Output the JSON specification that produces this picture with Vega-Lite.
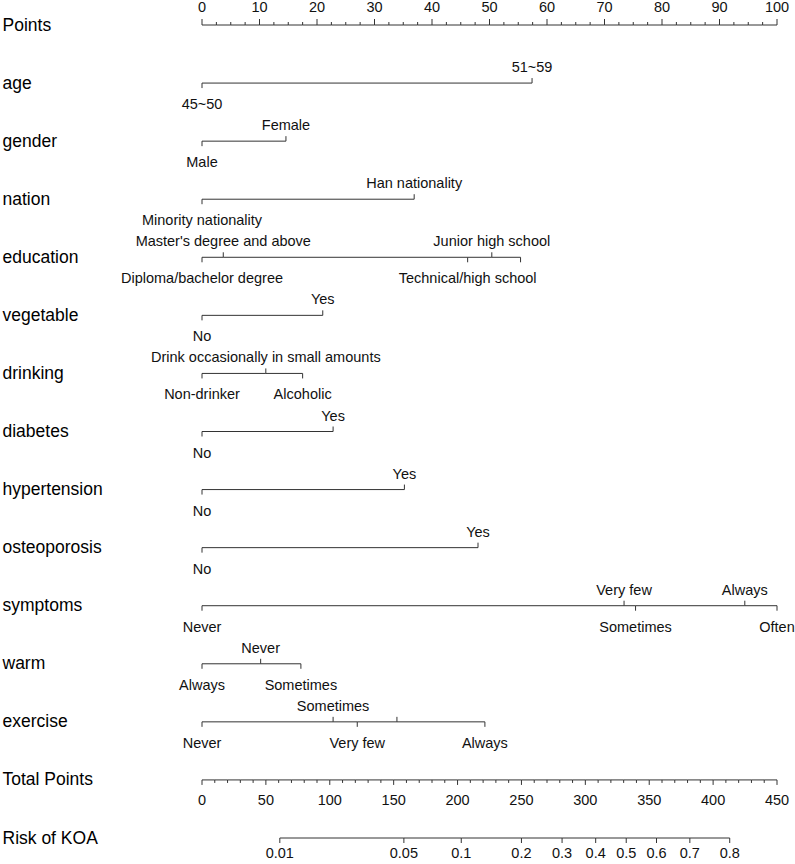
{
  "$schema": "https://vega.github.io/schema/vega-lite/v6.json",
  "width": 575,
  "height": 813,
  "autosize": {"type": "none"},
  "padding": {"left": 202, "top": 25, "right": 18, "bottom": 26},
  "background": "white",
  "config": {"font": "Liberation Sans", "view": {"stroke": null}},
  "datasets": {
    "lv": [
      {"v": "age", "p": 0, "lab": "45~50", "t": "d"},
      {"v": "age", "p": 57.4, "lab": "51~59", "t": "u"},
      {"v": "gender", "p": 0, "lab": "Male", "t": "d"},
      {"v": "gender", "p": 14.6, "lab": "Female", "t": "u"},
      {"v": "nation", "p": 0, "lab": "Minority nationality", "t": "d"},
      {"v": "nation", "p": 36.9, "lab": "Han nationality", "t": "u"},
      {"v": "education", "p": 0, "lab": "Diploma/bachelor degree", "t": "d"},
      {"v": "education", "p": 3.7, "lab": "Master's degree and above", "t": "u"},
      {"v": "education", "p": 46.2, "lab": "Technical/high school", "t": "d"},
      {"v": "education", "p": 50.4, "lab": "Junior high school", "t": "u"},
      {"v": "education", "p": 55.4, "lab": "", "t": "d"},
      {"v": "vegetable", "p": 0, "lab": "No", "t": "d"},
      {"v": "vegetable", "p": 21.0, "lab": "Yes", "t": "u"},
      {"v": "drinking", "p": 0, "lab": "Non-drinker", "t": "d"},
      {"v": "drinking", "p": 11.1, "lab": "Drink occasionally in small amounts", "t": "u"},
      {"v": "drinking", "p": 17.5, "lab": "Alcoholic", "t": "d"},
      {"v": "diabetes", "p": 0, "lab": "No", "t": "d"},
      {"v": "diabetes", "p": 22.8, "lab": "Yes", "t": "u"},
      {"v": "hypertension", "p": 0, "lab": "No", "t": "d"},
      {"v": "hypertension", "p": 35.2, "lab": "Yes", "t": "u"},
      {"v": "osteoporosis", "p": 0, "lab": "No", "t": "d"},
      {"v": "osteoporosis", "p": 48.0, "lab": "Yes", "t": "u"},
      {"v": "symptoms", "p": 0, "lab": "Never", "t": "d"},
      {"v": "symptoms", "p": 73.4, "lab": "Very few", "t": "u"},
      {"v": "symptoms", "p": 75.4, "lab": "Sometimes", "t": "d"},
      {"v": "symptoms", "p": 94.4, "lab": "Always", "t": "u"},
      {"v": "symptoms", "p": 100, "lab": "Often", "t": "d"},
      {"v": "warm", "p": 0, "lab": "Always", "t": "d"},
      {"v": "warm", "p": 10.2, "lab": "Never", "t": "u"},
      {"v": "warm", "p": 17.2, "lab": "Sometimes", "t": "d"},
      {"v": "exercise", "p": 0, "lab": "Never", "t": "d"},
      {"v": "exercise", "p": 22.8, "lab": "Sometimes", "t": "u"},
      {"v": "exercise", "p": 27.0, "lab": "Very few", "t": "d"},
      {"v": "exercise", "p": 33.9, "lab": "", "t": "u"},
      {"v": "exercise", "p": 49.2, "lab": "Always", "t": "d"}
    ],
    "pt": [
      {"v": "Points", "p": 0, "lab": "0", "t": "M"},
      {"v": "Points", "p": 2.5, "lab": "", "t": "m"},
      {"v": "Points", "p": 5, "lab": "", "t": "m"},
      {"v": "Points", "p": 7.5, "lab": "", "t": "m"},
      {"v": "Points", "p": 10, "lab": "10", "t": "M"},
      {"v": "Points", "p": 12.5, "lab": "", "t": "m"},
      {"v": "Points", "p": 15, "lab": "", "t": "m"},
      {"v": "Points", "p": 17.5, "lab": "", "t": "m"},
      {"v": "Points", "p": 20, "lab": "20", "t": "M"},
      {"v": "Points", "p": 22.5, "lab": "", "t": "m"},
      {"v": "Points", "p": 25, "lab": "", "t": "m"},
      {"v": "Points", "p": 27.5, "lab": "", "t": "m"},
      {"v": "Points", "p": 30, "lab": "30", "t": "M"},
      {"v": "Points", "p": 32.5, "lab": "", "t": "m"},
      {"v": "Points", "p": 35, "lab": "", "t": "m"},
      {"v": "Points", "p": 37.5, "lab": "", "t": "m"},
      {"v": "Points", "p": 40, "lab": "40", "t": "M"},
      {"v": "Points", "p": 42.5, "lab": "", "t": "m"},
      {"v": "Points", "p": 45, "lab": "", "t": "m"},
      {"v": "Points", "p": 47.5, "lab": "", "t": "m"},
      {"v": "Points", "p": 50, "lab": "50", "t": "M"},
      {"v": "Points", "p": 52.5, "lab": "", "t": "m"},
      {"v": "Points", "p": 55, "lab": "", "t": "m"},
      {"v": "Points", "p": 57.5, "lab": "", "t": "m"},
      {"v": "Points", "p": 60, "lab": "60", "t": "M"},
      {"v": "Points", "p": 62.5, "lab": "", "t": "m"},
      {"v": "Points", "p": 65, "lab": "", "t": "m"},
      {"v": "Points", "p": 67.5, "lab": "", "t": "m"},
      {"v": "Points", "p": 70, "lab": "70", "t": "M"},
      {"v": "Points", "p": 72.5, "lab": "", "t": "m"},
      {"v": "Points", "p": 75, "lab": "", "t": "m"},
      {"v": "Points", "p": 77.5, "lab": "", "t": "m"},
      {"v": "Points", "p": 80, "lab": "80", "t": "M"},
      {"v": "Points", "p": 82.5, "lab": "", "t": "m"},
      {"v": "Points", "p": 85, "lab": "", "t": "m"},
      {"v": "Points", "p": 87.5, "lab": "", "t": "m"},
      {"v": "Points", "p": 90, "lab": "90", "t": "M"},
      {"v": "Points", "p": 92.5, "lab": "", "t": "m"},
      {"v": "Points", "p": 95, "lab": "", "t": "m"},
      {"v": "Points", "p": 97.5, "lab": "", "t": "m"},
      {"v": "Points", "p": 100, "lab": "100", "t": "M"}
    ],
    "tp": [
      {"v": "Total Points", "tp": 0, "lab": "0", "t": "M"},
      {"v": "Total Points", "tp": 10, "lab": "", "t": "m"},
      {"v": "Total Points", "tp": 20, "lab": "", "t": "m"},
      {"v": "Total Points", "tp": 30, "lab": "", "t": "m"},
      {"v": "Total Points", "tp": 40, "lab": "", "t": "m"},
      {"v": "Total Points", "tp": 50, "lab": "50", "t": "M"},
      {"v": "Total Points", "tp": 60, "lab": "", "t": "m"},
      {"v": "Total Points", "tp": 70, "lab": "", "t": "m"},
      {"v": "Total Points", "tp": 80, "lab": "", "t": "m"},
      {"v": "Total Points", "tp": 90, "lab": "", "t": "m"},
      {"v": "Total Points", "tp": 100, "lab": "100", "t": "M"},
      {"v": "Total Points", "tp": 110, "lab": "", "t": "m"},
      {"v": "Total Points", "tp": 120, "lab": "", "t": "m"},
      {"v": "Total Points", "tp": 130, "lab": "", "t": "m"},
      {"v": "Total Points", "tp": 140, "lab": "", "t": "m"},
      {"v": "Total Points", "tp": 150, "lab": "150", "t": "M"},
      {"v": "Total Points", "tp": 160, "lab": "", "t": "m"},
      {"v": "Total Points", "tp": 170, "lab": "", "t": "m"},
      {"v": "Total Points", "tp": 180, "lab": "", "t": "m"},
      {"v": "Total Points", "tp": 190, "lab": "", "t": "m"},
      {"v": "Total Points", "tp": 200, "lab": "200", "t": "M"},
      {"v": "Total Points", "tp": 210, "lab": "", "t": "m"},
      {"v": "Total Points", "tp": 220, "lab": "", "t": "m"},
      {"v": "Total Points", "tp": 230, "lab": "", "t": "m"},
      {"v": "Total Points", "tp": 240, "lab": "", "t": "m"},
      {"v": "Total Points", "tp": 250, "lab": "250", "t": "M"},
      {"v": "Total Points", "tp": 260, "lab": "", "t": "m"},
      {"v": "Total Points", "tp": 270, "lab": "", "t": "m"},
      {"v": "Total Points", "tp": 280, "lab": "", "t": "m"},
      {"v": "Total Points", "tp": 290, "lab": "", "t": "m"},
      {"v": "Total Points", "tp": 300, "lab": "300", "t": "M"},
      {"v": "Total Points", "tp": 310, "lab": "", "t": "m"},
      {"v": "Total Points", "tp": 320, "lab": "", "t": "m"},
      {"v": "Total Points", "tp": 330, "lab": "", "t": "m"},
      {"v": "Total Points", "tp": 340, "lab": "", "t": "m"},
      {"v": "Total Points", "tp": 350, "lab": "350", "t": "M"},
      {"v": "Total Points", "tp": 360, "lab": "", "t": "m"},
      {"v": "Total Points", "tp": 370, "lab": "", "t": "m"},
      {"v": "Total Points", "tp": 380, "lab": "", "t": "m"},
      {"v": "Total Points", "tp": 390, "lab": "", "t": "m"},
      {"v": "Total Points", "tp": 400, "lab": "400", "t": "M"},
      {"v": "Total Points", "tp": 410, "lab": "", "t": "m"},
      {"v": "Total Points", "tp": 420, "lab": "", "t": "m"},
      {"v": "Total Points", "tp": 430, "lab": "", "t": "m"},
      {"v": "Total Points", "tp": 440, "lab": "", "t": "m"},
      {"v": "Total Points", "tp": 450, "lab": "450", "t": "M"}
    ],
    "rk": [
      {"v": "Risk of KOA", "tp": 60.9, "lab": "0.01"},
      {"v": "Risk of KOA", "tp": 158.0, "lab": "0.05"},
      {"v": "Risk of KOA", "tp": 202.9, "lab": "0.1"},
      {"v": "Risk of KOA", "tp": 250.0, "lab": "0.2"},
      {"v": "Risk of KOA", "tp": 281.8, "lab": "0.3"},
      {"v": "Risk of KOA", "tp": 308.1, "lab": "0.4"},
      {"v": "Risk of KOA", "tp": 332.0, "lab": "0.5"},
      {"v": "Risk of KOA", "tp": 355.7, "lab": "0.6"},
      {"v": "Risk of KOA", "tp": 381.8, "lab": "0.7"},
      {"v": "Risk of KOA", "tp": 413.0, "lab": "0.8"}
    ]
  },
  "encoding": {
    "y": {
      "field": "v",
      "type": "nominal",
      "scale": {
        "type": "point",
        "padding": 0,
        "domain": ["Points", "age", "gender", "nation", "education", "vegetable", "drinking", "diabetes", "hypertension", "osteoporosis", "symptoms", "warm", "exercise", "Total Points", "Risk of KOA"]
      },
      "axis": {
        "title": null,
        "orient": "left",
        "domain": false,
        "ticks": false,
        "tickSize": 0,
        "labelAlign": "left",
        "labelPadding": 200,
        "labelFontSize": 17.5,
        "labelFont": "Liberation Sans",
        "labelColor": "#000000",
        "labelLimit": 400,
        "labelBaseline": "middle",
        "grid": false
      }
    }
  },
  "resolve": {"scale": {"x": "independent"}},
  "layer": [
    {
      "data": {"name": "lv"},
      "mark": {"type": "line", "color": "#333333", "strokeWidth": 1},
      "encoding": {
        "x": {"field": "p", "type": "quantitative", "scale": {"domain": [0, 100], "nice": false, "zero": false}, "axis": null},
        "detail": {"field": "v"},
        "order": {"field": "p"}
      }
    },
    {
      "data": {"name": "lv"},
      "transform": [{"filter": "datum.t === 'u'"}],
      "mark": {"type": "rule", "color": "#333333", "strokeWidth": 1, "y2Offset": -5},
      "encoding": {
        "x": {"field": "p", "type": "quantitative", "scale": {"domain": [0, 100], "nice": false, "zero": false}, "axis": null},
        "y2": {"field": "v"}
      }
    },
    {
      "data": {"name": "lv"},
      "transform": [{"filter": "datum.t === 'd'"}],
      "mark": {"type": "rule", "color": "#333333", "strokeWidth": 1, "y2Offset": 5},
      "encoding": {
        "x": {"field": "p", "type": "quantitative", "scale": {"domain": [0, 100], "nice": false, "zero": false}, "axis": null},
        "y2": {"field": "v"}
      }
    },
    {
      "data": {"name": "lv"},
      "transform": [{"filter": "datum.t === 'u'"}],
      "mark": {"type": "text", "fontSize": 14.5, "color": "#111111", "align": "center", "baseline": "alphabetic", "dy": -11},
      "encoding": {
        "x": {"field": "p", "type": "quantitative", "scale": {"domain": [0, 100], "nice": false, "zero": false}, "axis": null},
        "text": {"field": "lab"}
      }
    },
    {
      "data": {"name": "lv"},
      "transform": [{"filter": "datum.t === 'd'"}],
      "mark": {"type": "text", "fontSize": 14.5, "color": "#111111", "align": "center", "baseline": "alphabetic", "dy": 26},
      "encoding": {
        "x": {"field": "p", "type": "quantitative", "scale": {"domain": [0, 100], "nice": false, "zero": false}, "axis": null},
        "text": {"field": "lab"}
      }
    },
    {
      "data": {"name": "pt"},
      "mark": {"type": "line", "color": "#333333", "strokeWidth": 1},
      "encoding": {
        "x": {"field": "p", "type": "quantitative", "scale": {"domain": [0, 100], "nice": false, "zero": false}, "axis": null},
        "order": {"field": "p"}
      }
    },
    {
      "data": {"name": "pt"},
      "transform": [{"filter": "datum.t === 'M'"}],
      "mark": {"type": "rule", "color": "#333333", "strokeWidth": 1, "y2Offset": -6},
      "encoding": {
        "x": {"field": "p", "type": "quantitative", "scale": {"domain": [0, 100], "nice": false, "zero": false}, "axis": null},
        "y2": {"field": "v"}
      }
    },
    {
      "data": {"name": "pt"},
      "transform": [{"filter": "datum.t === 'm'"}],
      "mark": {"type": "rule", "color": "#333333", "strokeWidth": 1, "y2Offset": -3},
      "encoding": {
        "x": {"field": "p", "type": "quantitative", "scale": {"domain": [0, 100], "nice": false, "zero": false}, "axis": null},
        "y2": {"field": "v"}
      }
    },
    {
      "data": {"name": "pt"},
      "transform": [{"filter": "datum.t === 'M'"}],
      "mark": {"type": "text", "fontSize": 14.5, "color": "#111111", "align": "center", "baseline": "alphabetic", "dy": -13},
      "encoding": {
        "x": {"field": "p", "type": "quantitative", "scale": {"domain": [0, 100], "nice": false, "zero": false}, "axis": null},
        "text": {"field": "lab"}
      }
    },
    {
      "data": {"name": "tp"},
      "mark": {"type": "line", "color": "#333333", "strokeWidth": 1},
      "encoding": {
        "x": {"field": "tp", "type": "quantitative", "scale": {"domain": [0, 450], "nice": false, "zero": false}, "axis": null},
        "order": {"field": "tp"}
      }
    },
    {
      "data": {"name": "tp"},
      "transform": [{"filter": "datum.t === 'M'"}],
      "mark": {"type": "rule", "color": "#333333", "strokeWidth": 1, "y2Offset": 5},
      "encoding": {
        "x": {"field": "tp", "type": "quantitative", "scale": {"domain": [0, 450], "nice": false, "zero": false}, "axis": null},
        "y2": {"field": "v"}
      }
    },
    {
      "data": {"name": "tp"},
      "transform": [{"filter": "datum.t === 'm'"}],
      "mark": {"type": "rule", "color": "#333333", "strokeWidth": 1, "y2Offset": 3},
      "encoding": {
        "x": {"field": "tp", "type": "quantitative", "scale": {"domain": [0, 450], "nice": false, "zero": false}, "axis": null},
        "y2": {"field": "v"}
      }
    },
    {
      "data": {"name": "tp"},
      "transform": [{"filter": "datum.t === 'M'"}],
      "mark": {"type": "text", "fontSize": 14.5, "color": "#111111", "align": "center", "baseline": "alphabetic", "dy": 25},
      "encoding": {
        "x": {"field": "tp", "type": "quantitative", "scale": {"domain": [0, 450], "nice": false, "zero": false}, "axis": null},
        "text": {"field": "lab"}
      }
    },
    {
      "data": {"name": "rk"},
      "mark": {"type": "line", "color": "#333333", "strokeWidth": 1},
      "encoding": {
        "x": {"field": "tp", "type": "quantitative", "scale": {"domain": [0, 450], "nice": false, "zero": false}, "axis": null},
        "order": {"field": "tp"}
      }
    },
    {
      "data": {"name": "rk"},
      "mark": {"type": "rule", "color": "#333333", "strokeWidth": 1, "y2Offset": 5},
      "encoding": {
        "x": {"field": "tp", "type": "quantitative", "scale": {"domain": [0, 450], "nice": false, "zero": false}, "axis": null},
        "y2": {"field": "v"}
      }
    },
    {
      "data": {"name": "rk"},
      "mark": {"type": "text", "fontSize": 14.5, "color": "#111111", "align": "center", "baseline": "alphabetic", "dy": 20},
      "encoding": {
        "x": {"field": "tp", "type": "quantitative", "scale": {"domain": [0, 450], "nice": false, "zero": false}, "axis": null},
        "text": {"field": "lab"}
      }
    }
  ]
}
